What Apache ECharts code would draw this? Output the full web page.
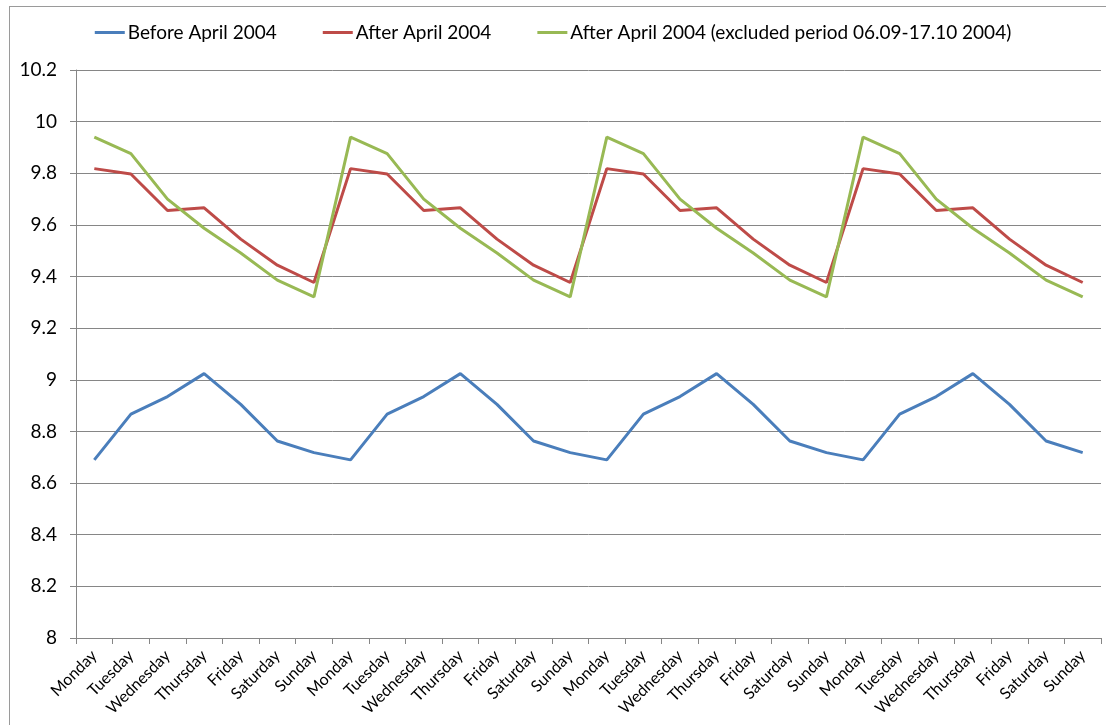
<!DOCTYPE html>
<html>
<head>
<meta charset="utf-8">
<script src="https://cdn.jsdelivr.net/npm/echarts@6/dist/echarts.min.js"></script>
<style>
  html, body { margin: 0; padding: 0; background: #fff; }
  #frame { position: absolute; left: 9px; top: 6px; width: 1200px; height: 800px; border: 1px solid #9a9a9a; }
  #chart { position: absolute; left: 0; top: 0; width: 1106px; height: 725px; }
</style>
</head>
<body>
<div id="frame"></div>
<div id="chart"></div>
<script>
// x-axis categories (four weeks)
const days = [
  'Monday', 'Tuesday', 'Wednesday', 'Thursday', 'Friday', 'Saturday', 'Sunday',
  'Monday', 'Tuesday', 'Wednesday', 'Thursday', 'Friday', 'Saturday', 'Sunday',
  'Monday', 'Tuesday', 'Wednesday', 'Thursday', 'Friday', 'Saturday', 'Sunday',
  'Monday', 'Tuesday', 'Wednesday', 'Thursday', 'Friday', 'Saturday', 'Sunday'
]

const beforeApril = [
  8.69, 8.867, 8.935, 9.024, 8.905, 8.763, 8.718,
  8.69, 8.867, 8.935, 9.024, 8.905, 8.763, 8.718,
  8.69, 8.867, 8.935, 9.024, 8.905, 8.763, 8.718,
  8.69, 8.867, 8.935, 9.024, 8.905, 8.763, 8.718
]

const afterApril = [
  9.818, 9.797, 9.656, 9.666, 9.545, 9.444, 9.377,
  9.818, 9.797, 9.656, 9.666, 9.545, 9.444, 9.377,
  9.818, 9.797, 9.656, 9.666, 9.545, 9.444, 9.377,
  9.818, 9.797, 9.656, 9.666, 9.545, 9.444, 9.377
]

const afterAprilExcl = [
  9.94, 9.876, 9.70, 9.587, 9.491, 9.386, 9.321,
  9.94, 9.876, 9.70, 9.587, 9.491, 9.386, 9.321,
  9.94, 9.876, 9.70, 9.587, 9.491, 9.386, 9.321,
  9.94, 9.876, 9.70, 9.587, 9.491, 9.386, 9.321
]

const seriesNames = [
  'Before April 2004',
  'After April 2004',
  'After April 2004 (excluded period 06.09-17.10 2004)'
]
const colors = ['#4a7ebb', '#be4b48', '#98b954']

const font = 'Lato, "Open Sans", sans-serif'
const chart = echarts.init(document.getElementById('chart'))

function line(name, data, color) {
  return {
    name: name,
    type: 'line',
    data: data,
    symbol: 'none',
    animation: false,
    lineStyle: { color: color, width: 3 },
    itemStyle: { color: color }
  }
}

chart.setOption({
  color: colors,
  textStyle: { fontFamily: font, color: '#000' },
  legend: {
    top: 18,
    left: 'center',
    itemWidth: 30,
    itemHeight: 3,
    itemGap: 46,
    icon: 'rect',
    textStyle: { fontSize: 19, fontFamily: font, color: '#000', padding: [0, 0, 0, -2] },
    data: seriesNames
  },
  grid: {
    left: 76,
    right: 5,
    top: 70,
    bottom: 87
  },
  xAxis: {
    type: 'category',
    data: days,
    boundaryGap: true,
    axisLine: { lineStyle: { color: '#868686', width: 1 } },
    axisTick: { show: true, length: 6, alignWithLabel: false, lineStyle: { color: '#868686' } },
    axisLabel: {
      interval: 0,
      rotate: 45,
      fontSize: 16,
      fontFamily: font,
      color: '#000',
      margin: 15
    }
  },
  yAxis: {
    type: 'value',
    min: 8,
    max: 10.2,
    interval: 0.2,
    axisLine: { show: true, lineStyle: { color: '#868686', width: 1 } },
    axisTick: { show: true, length: 6, lineStyle: { color: '#868686' } },
    splitLine: { lineStyle: { color: '#868686', width: 1 } },
    axisLabel: {
      fontSize: 19,
      fontFamily: font,
      color: '#000',
      margin: 19,
      formatter: function (v) { return String(Math.round(v * 10) / 10) }
    }
  },
  series: [
    line(seriesNames[0], beforeApril, colors[0]),
    line(seriesNames[1], afterApril, colors[1]),
    line(seriesNames[2], afterAprilExcl, colors[2])
  ]
})
</script>
</body>
</html>
